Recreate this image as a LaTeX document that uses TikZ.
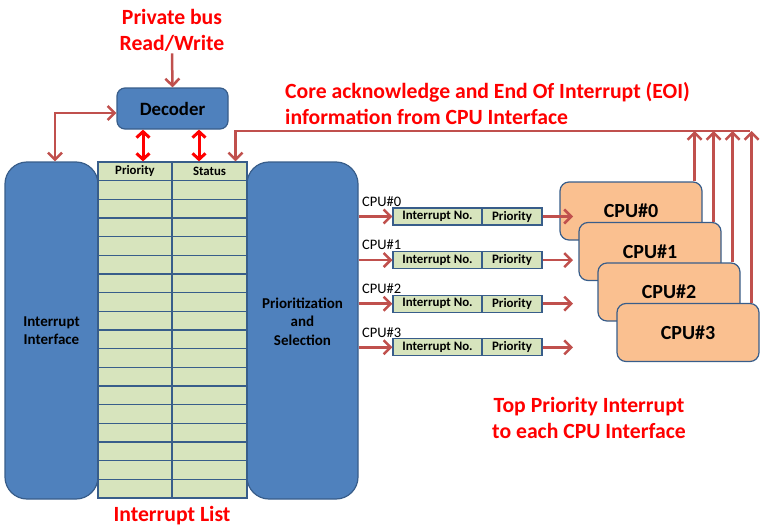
\documentclass[tikz,border=0pt]{standalone}
\usepackage{fontspec}
\setmainfont{Carlito}
\usetikzlibrary{arrows.meta}
\definecolor{boxblue}{HTML}{4F81BD}
\definecolor{lineblue}{HTML}{385D8A}
\definecolor{listgreen}{HTML}{D7E4BD}
\definecolor{cpuorange}{HTML}{FAC090}
\definecolor{linkred}{HTML}{C0504D}
\definecolor{notered}{HTML}{FF0000}
\begin{document}
\begin{tikzpicture}[x=1pt,y=-1pt,
    block/.style={draw=lineblue,line width=1.2pt,fill=boxblue,rounded corners=22pt,
        minimum height=337pt,inner sep=0pt,align=center,
        font=\bfseries\fontsize{15}{18.5}\selectfont},
    cell/.style={draw=lineblue,line width=1.2pt,fill=listgreen,minimum height=18.67pt,
        inner sep=0pt,font=\bfseries\fontsize{12.8}{13}\selectfont},
    entry/.style={draw=lineblue,line width=1.2pt,fill=listgreen,minimum height=17pt,
        inner sep=0pt,font=\bfseries\fontsize{12.9}{13}\selectfont},
    cpubox/.style={draw=lineblue,line width=1.2pt,fill=cpuorange,rounded corners=9pt,
        minimum width=142pt,minimum height=58pt,font=\bfseries\fontsize{20}{21}\selectfont},
    cpulabel/.style={inner sep=0pt,font=\fontsize{14.5}{15}\selectfont},
    note/.style={text=notered,align=center,inner sep=2pt,
        font=\bfseries\fontsize{21.7}{26}\selectfont},
    link/.style={draw=linkred,line width=2.5pt,>={Straight Barb[length=7pt,width=14pt]}},
    busline/.style={draw=notered,line width=3pt,
        {Straight Barb[length=6pt,width=13pt]}-{Straight Barb[length=6pt,width=13pt]}}]

    \useasboundingbox (0,0) rectangle (764,530);

    \node[block,minimum width=93pt] (intf) at (51.5,330.5) {Interrupt\\Interface};
    \node[block,minimum width=111pt] (sel) at (302.5,330.5) {Prioritization\\and\\Selection\\[0pt]};

    \node[cell,minimum width=74pt] (p0) at (135,171.33) {Priority};
    \node[cell,minimum width=75pt] (s0) at (209.5,171.33) {Status};
    \foreach \i [evaluate=\i as \y using 171.33+18.67*\i] in {1,...,17} {
        \node[cell,minimum width=74pt] (p\i) at (135,\y) {};
        \node[cell,minimum width=75pt] (s\i) at (209.5,\y) {};
    }

    \node[block,minimum width=111pt,minimum height=41pt,rounded corners=8pt,
        font=\bfseries\fontsize{18.8}{20}\selectfont] (dec) at (172.5,108.5) {Decoder};
    \node[note] (bus) at (172,30) {Private bus\\Read/Write};
    \draw[link,->] (bus.south) -- (dec.north);
    \draw[link,<->] ([xshift=3.5pt]intf.north) |- ([yshift=-4.5pt]dec.west);
    \draw[busline] ([xshift=8pt]p0.north) -- ([xshift=8pt]p0.north |- dec.south);
    \draw[busline] ([xshift=-10.5pt]s0.north) -- ([xshift=-10.5pt]s0.north |- dec.south);

    \foreach \i in {0,...,3}
        \node[cpubox] (cpu\i) at (631+19*\i,211+40.5*\i) {CPU\#\i};

    \coordinate (eoi) at (750,131);
    \draw[link,->] (eoi) -| ([xshift=-12pt]s0.north east);
    \foreach \i in {0,...,3}
        \draw[link,->] ([xshift=-8pt]cpu\i.north east) -- ([xshift=-8pt]cpu\i.north east |- eoi);

    \foreach \i [evaluate=\i as \y using 216.5+43.6*\i] in {0,...,3} {
        \node[entry,minimum width=89pt] (no\i) at (437.5,\y) {Interrupt No.};
        \node[entry,minimum width=60pt] (pr\i) at (512,\y) {Priority};
        \node[cpulabel,anchor=west] (lab\i) at (362,\y-15) {CPU\#\i};
        \coordinate (tip\i) at (573,\y);
        \draw[link,->] (sel.east |- no\i) -- (no\i);
        \draw[link,->] (pr\i) -- (tip\i);
    }

    \node[note,anchor=west,align=left] (eoitext) at (283,104)
        {Core acknowledge and End Of Interrupt (EOI)\\information from CPU Interface};
    \node[note] (toptext) at (589,418) {Top Priority Interrupt\\to each CPU Interface};
    \node[note] (listtext) at (172,516) {Interrupt List};

\end{tikzpicture}
\end{document}
